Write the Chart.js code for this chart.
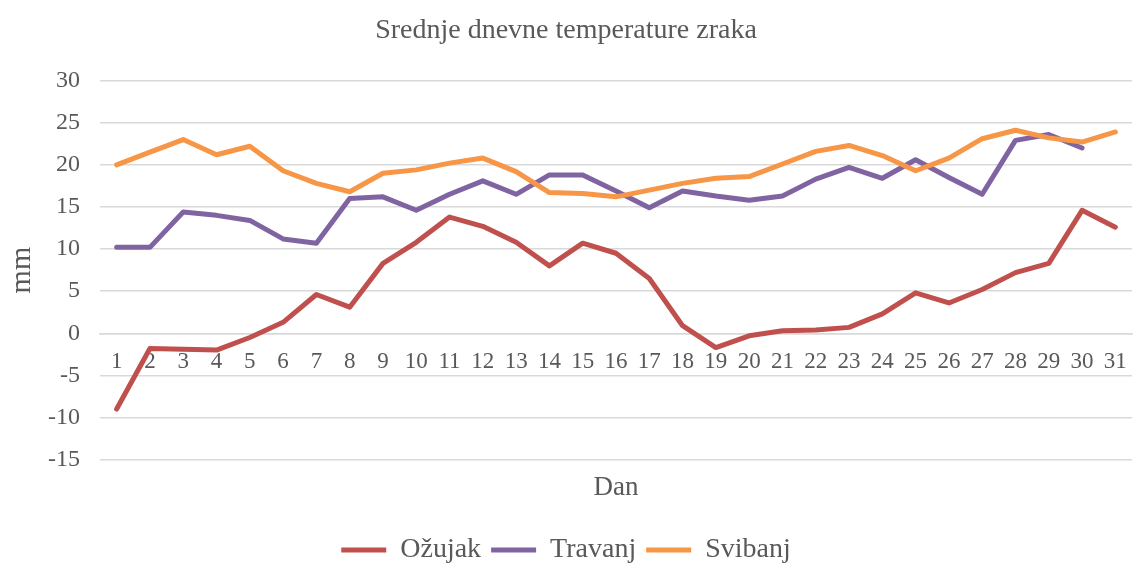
<!DOCTYPE html>
<html>
<head>
<meta charset="utf-8">
<title>Srednje dnevne temperature zraka</title>
<script src="https://cdn.jsdelivr.net/npm/chart.js@4.4.1/dist/chart.umd.min.js"></script>
<style>
  html, body { margin: 0; padding: 0; background: #fff; }
  #wrap { width: 1135px; height: 574px; }
</style>
</head>
<body>
<div id="wrap"><canvas id="tempChart"></canvas></div>
<script>
// dani u mjesecu (kategorije na osi x)
var dani = ["1", "2", "3", "4", "5", "6", "7", "8", "9", "10", "11", "12", "13", "14", "15", "16",
            "17", "18", "19", "20", "21", "22", "23", "24", "25", "26", "27", "28", "29", "30", "31"];

// srednje dnevne temperature po mjesecima
var ozujak = [-9.0, -1.8, -1.9, -2.0, -0.5, 1.3, 4.6, 3.1, 8.3, 10.8, 13.8, 12.7, 10.8, 8.0, 10.7, 9.5,
              6.5, 0.9, -1.7, -0.3, 0.3, 0.4, 0.7, 2.3, 4.8, 3.6, 5.2, 7.2, 8.3, 14.6, 12.6];
var travanj = [10.2, 10.2, 14.4, 14.0, 13.4, 11.2, 10.7, 16.0, 16.2, 14.6, 16.5, 18.1, 16.5, 18.8, 18.8, 16.9,
               14.9, 16.9, 16.3, 15.8, 16.3, 18.3, 19.7, 18.4, 20.6, 18.5, 16.5, 22.9, 23.6, 22.0];
var svibanj = [20.0, 21.5, 23.0, 21.2, 22.2, 19.3, 17.8, 16.8, 19.0, 19.4, 20.2, 20.8, 19.2, 16.7, 16.6, 16.2,
               17.0, 17.8, 18.4, 18.6, 20.1, 21.6, 22.3, 21.1, 19.3, 20.8, 23.1, 24.1, 23.2, 22.7, 23.9];

// raspon osi y
var yMin = -15, yMax = 30, yKorak = 5;

var serif = "'Liberation Serif', 'Times New Roman', serif";
var siva = "#595959";
var mreza = "#D9D9D9";

function linija(naziv, podaci, boja, red) {
    return {
        label: naziv,
        data: podaci,
        borderColor: boja,
        backgroundColor: boja,
        borderWidth: 5,
        pointRadius: 0,
        tension: 0,
        borderCapStyle: "round",
        borderJoinStyle: "round",
        order: red // Svibanj iscrtan zadnji (na vrhu), kao u Excelu
    };
}

var ctx = document.getElementById("tempChart").getContext("2d");
var chart = new Chart(ctx, {
    type: "line",
    data: {
        labels: dani,
        datasets: [
            linija("Ožujak", ozujak, "#C0504D", 2),
            linija("Travanj", travanj, "#8064A2", 1),
            linija("Svibanj", svibanj, "#F79646", 0)
        ]
    },
    options: {
        responsive: true,
        maintainAspectRatio: false,
        animation: false,
        layout: { padding: { left: 0, right: 3, top: 0, bottom: 0 } },
        plugins: {
            title: {
                display: true,
                text: "Srednje dnevne temperature zraka",
                color: siva,
                font: { family: serif, size: 28, weight: "normal" },
                padding: { top: 14, bottom: 33 }
            },
            legend: {
                position: "bottom",
                labels: {
                    color: siva,
                    font: { family: serif, size: 28 },
                    boxWidth: 45,
                    boxHeight: 5,
                    padding: 10,
                    sort: function (a, b) { return a.datasetIndex - b.datasetIndex; },
                    generateLabels: function (c) {
                        return Chart.defaults.plugins.legend.labels.generateLabels(c).map(function (l) {
                            l.lineWidth = 0;
                            return l;
                        });
                    }
                }
            },
            tooltip: { enabled: false }
        },
        scales: {
            x: {
                type: "category",
                position: { y: 0 },
                offset: true,
                // bez dodatnog bočnog razmaka za oznake
                afterFit: function (scale) { scale.paddingLeft = 0; scale.paddingRight = 0; },
                grid: { display: false, drawTicks: false },
                border: { display: true, color: mreza, width: 1.5 },
                ticks: {
                    color: siva,
                    font: { family: serif, size: 23 },
                    autoSkip: false,
                    maxRotation: 0,
                    padding: 15
                }
            },
            xDan: {
                type: "category",
                axis: "x",
                position: "bottom",
                offset: true,
                grid: { display: false, drawTicks: false },
                border: { display: false },
                ticks: { display: false },
                title: {
                    display: true,
                    text: "Dan",
                    color: siva,
                    font: { family: serif, size: 27 },
                    padding: { top: 12, bottom: 22 }
                }
            },
            y: {
                min: yMin,
                max: yMax,
                afterFit: function (scale) { scale.width = 100; },
                ticks: {
                    stepSize: yKorak,
                    color: siva,
                    font: { family: serif, size: 24 },
                    padding: 20
                },
                grid: { color: mreza, lineWidth: 1.5, drawTicks: false },
                border: { display: false },
                title: {
                    display: true,
                    text: "mm",
                    color: siva,
                    font: { family: serif, size: 30 },
                    padding: { top: 4, bottom: 8 }
                }
            }
        }
    }
});
</script>
</body>
</html>
